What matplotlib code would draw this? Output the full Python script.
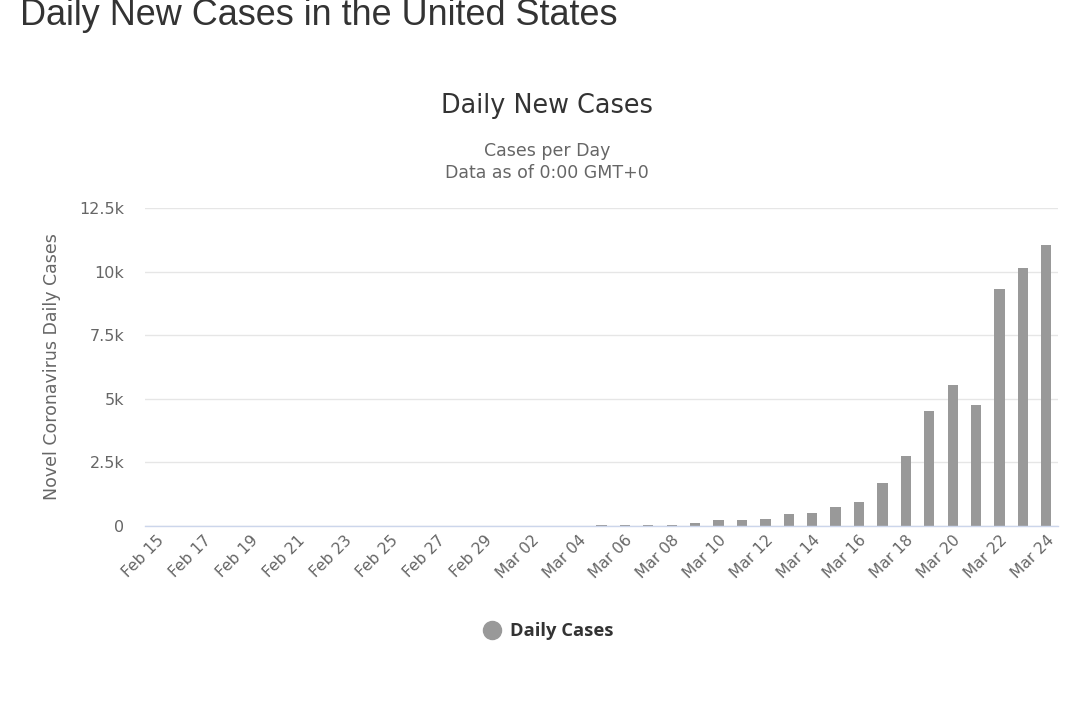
import matplotlib
matplotlib.use("Agg")
import matplotlib.pyplot as plt
from matplotlib.lines import Line2D
import numpy as np

dates = (["Feb %02d" % d for d in range(15, 30)] +
         ["Mar %02d" % d for d in range(1, 25)])
cases = [0, 0, 0, 0, 0, 0, 1, 0, 0, 0, 0, 0, 0, 0, 1,
         5, 8, 12, 15, 20, 45, 50, 55, 120, 240, 240, 290, 480, 520,
         760, 940, 1700, 2760, 4530, 5540, 4770, 9300, 10150, 11030]
yticks = [0, 2500, 5000, 7500, 10000, 12500]
ytick_labels = ["0", "2.5k", "5k", "7.5k", "10k", "12.5k"]

plt.rcParams['font.family'] = ['DejaVu Sans']

fig = plt.figure(figsize=(10.83, 7.23), dpi=100)
ax = fig.add_axes([145/1083, 1-526/723, 913/1083, 318/723])

x = np.arange(len(dates))
ax.bar(x, cases, width=0.44, color="#999999", zorder=3)
ax.set_xlim(-0.5, len(dates) - 0.5)
ax.set_ylim(0, 12500)
ax.set_yticks(yticks)
ax.set_yticklabels(ytick_labels, fontsize=11.5, color="#666666")
ax.yaxis.grid(True, color="#e6e6e6", linewidth=1, zorder=0)
ax.tick_params(axis='y', length=0, pad=15)
ax.tick_params(axis='x', length=0, pad=5)
ax.set_xticks(x[::2])
ax.set_xticklabels(dates[::2], rotation=45, ha='right', va='top',
                   rotation_mode='anchor', fontsize=11.2, color="#666666")
for s in ['top', 'right', 'left']:
    ax.spines[s].set_visible(False)
ax.spines['bottom'].set_color("#ccd6eb")
ax.spines['bottom'].set_linewidth(1)
ax.spines['bottom'].set_zorder(4)
ax.set_ylabel("Novel Coronavirus Daily Cases", fontsize=12.5, color="#666666", labelpad=13)

fig.text(20/1083, 1-25/723, "Daily New Cases in the United States",
         fontsize=25.9, color="#333333", family=['Liberation Sans', 'DejaVu Sans'],
         ha='left', va='baseline')
fig.text(547/1083, 1-113/723, "Daily New Cases", fontsize=18.4, color="#333333",
         ha='center', va='baseline')
fig.text(547/1083, 1-156/723, "Cases per Day", fontsize=12.5, color="#666666",
         ha='center', va='baseline')
fig.text(547/1083, 1-178/723, "Data as of 0:00 GMT+0", fontsize=12.5, color="#666666",
         ha='center', va='baseline')

handle = Line2D([], [], marker='o', color='none', markerfacecolor="#999999",
                markeredgecolor="#999999", markersize=13)
leg = fig.legend([handle], ["Daily Cases"], loc='center', bbox_to_anchor=(547/1083, 1-631/723),
                 frameon=False, handletextpad=0.4, handlelength=1.2,
                 prop={'size': 13.2, 'weight': 'bold', 'family': 'Open Sans'})
for t in leg.get_texts():
    t.set_color("#333333")

fig.savefig("out.png", dpi=100, facecolor="white")
